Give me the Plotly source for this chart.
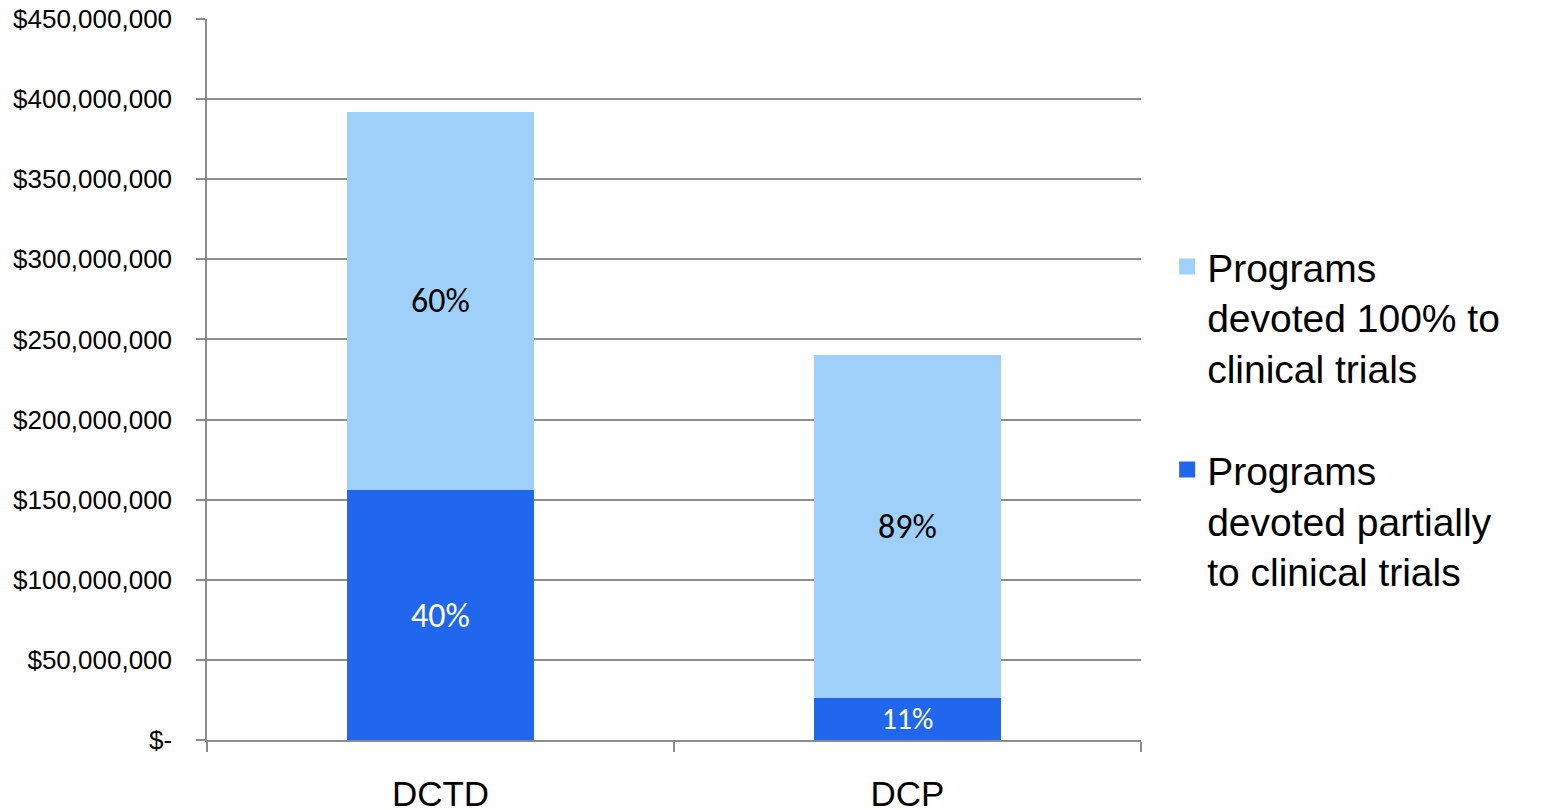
import plotly.graph_objects as go

categories = ["DCTD", "DCP"]
partial_values = [156_000_000, 26_200_000]
full_values = [236_000_000, 213_800_000]
partial_labels = ["40%", "11%"]
full_labels = ["60%", "89%"]
series_names = ["Programs<br>devoted partially<br>to clinical trials",
                "Programs<br>devoted 100% to<br>clinical trials"]
tick_vals = [0, 50e6, 100e6, 150e6, 200e6, 250e6, 300e6, 350e6, 400e6, 450e6]
tick_text = ["$-", "$50,000,000", "$100,000,000", "$150,000,000", "$200,000,000",
             "$250,000,000", "$300,000,000", "$350,000,000", "$400,000,000", "$450,000,000"]

dark = "#2167EE"
light = "#9FD0FA"
colors = [dark, light]
label_font = "Carlito, Open Sans, Lato, sans-serif"
arial = "Liberation Sans, Arial, sans-serif"

fig = go.Figure()
fig.add_trace(go.Bar(
    x=categories, y=partial_values, name=series_names[0], showlegend=False,
    marker=dict(color=dark, line=dict(width=0)),
    text=partial_labels, textposition="inside", insidetextanchor="middle",
    textfont=dict(color="white", size=34, family=label_font),
    textangle=0,
))
fig.add_trace(go.Bar(
    x=categories, y=full_values, name=series_names[1], showlegend=False,
    marker=dict(color=light, line=dict(width=0)),
    text=full_labels, textposition="inside", insidetextanchor="middle",
    textfont=dict(color="black", size=34, family=label_font),
    textangle=0,
))
# legend proxies (no visible data points)
for i, (nm, col) in enumerate(zip(series_names, colors)):
    fig.add_trace(go.Scatter(
        x=[None], y=[None], mode="markers", name=nm, legendgroup=f"g{i}",
        marker=dict(symbol="square", size=20, color=col),
        legendrank=2 - i,
    ))

# compensate for 8px default body margin in the HTML page
W, H = 1536, 802
fig.update_layout(
    barmode="stack",
    bargap=0.6,
    width=W, height=H,
    autosize=False,
    margin=dict(l=199, r=W - 199 - 934, t=11, b=H - 11 - 721),
    plot_bgcolor="white", paper_bgcolor="white",
    font=dict(family=arial, color="black"),
    legend=dict(
        x=1.028, y=0.445, xanchor="left", yanchor="middle",
        font=dict(size=39, family=arial),
        tracegroupgap=48, itemsizing="trace", valign="top",
        itemwidth=30,
    ),
    showlegend=True,
)
fig.update_yaxes(
    range=[0, 450e6], tickvals=tick_vals, ticktext=tick_text,
    tickfont=dict(size=26), showgrid=True, gridcolor="#8C8C8C", gridwidth=1.5,
    showline=True, linecolor="#8C8C8C", linewidth=1.5,
    ticks="outside", ticklen=9, tickcolor="#8C8C8C", tickwidth=1.5,
    zeroline=False, fixedrange=True, automargin=False, ticklabelstandoff=19,
    ticklabeloverflow="allow",
)
fig.update_xaxes(
    tickfont=dict(size=35), showline=True, linecolor="#8C8C8C", linewidth=1.5,
    ticks="outside", tickson="boundaries", ticklen=10, tickcolor="#8C8C8C", tickwidth=1.5,
    ticklabelstandoff=22, automargin=False, ticklabeloverflow="allow",
)

fig.write_html("out.html")
